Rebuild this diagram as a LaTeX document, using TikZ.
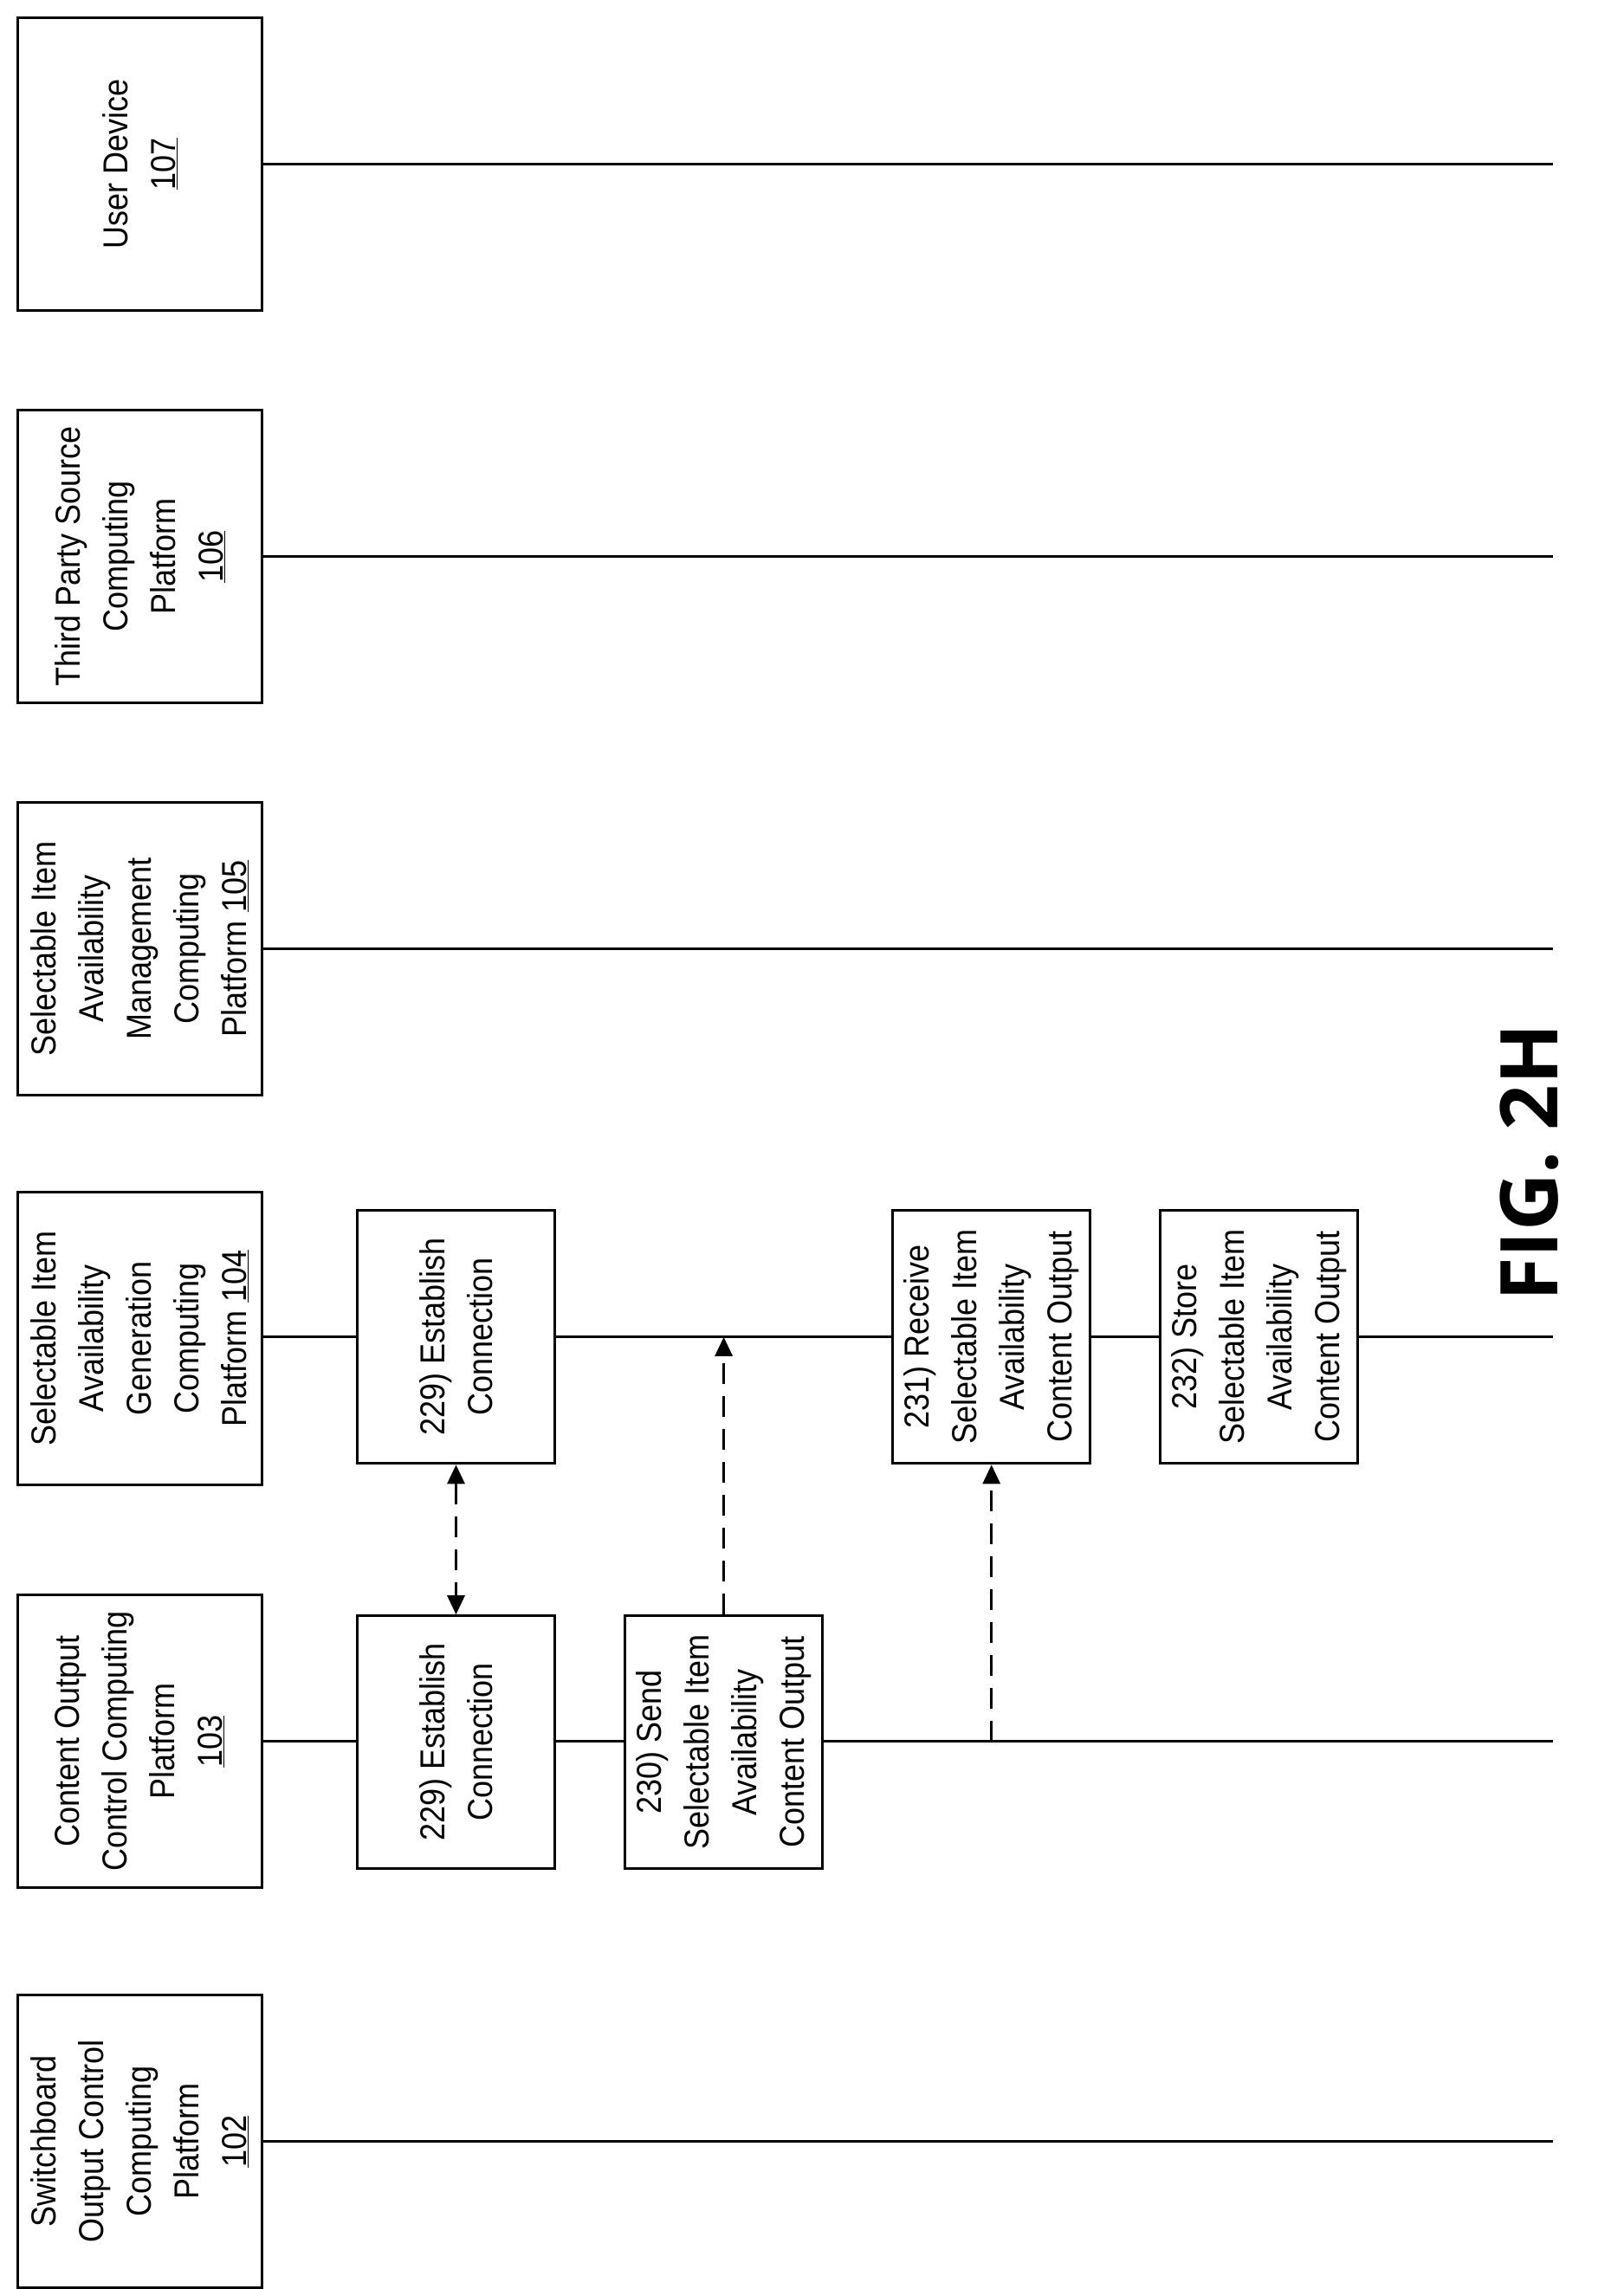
\documentclass[tikz,border=0pt]{standalone}
\usepackage{fontspec}
\setmainfont[FakeStretch=0.9]{Liberation Sans}
\newfontfamily\figfont{Open Sans}
\usetikzlibrary{arrows.meta}
\begin{document}
\begin{tikzpicture}[x=1.6984pt,y=-1.6984pt,
  every node/.style={font=\fontsize{40}{55}\selectfont},
  hdr/.style={draw,line width=3pt,rotate=90,minimum width=338pt,minimum height=282pt,align=center,inner sep=0pt,fill=white},
  stp/.style={draw,line width=3pt,rotate=90,minimum width=292pt,minimum height=228pt,align=center,inner sep=0pt,fill=white},
  life/.style={line width=3pt},
  msg/.style={line width=3pt,dash pattern=on 24pt off 14pt,-{Triangle[length=22pt,width=20pt]}},
  msgb/.style={line width=3pt,dash pattern=on 24pt off 14pt,{Triangle[length=22pt,width=20pt]}-{Triangle[length=22pt,width=20pt]}}]
\useasboundingbox (0,0) rectangle (1104,1556.2);
\node[hdr] (h107) at (95,111.5) {User Device\\\underline{107}};
\node[hdr] (h106) at (95,378.5) {Third Party Source\\Computing\\Platform\\\underline{106}};
\node[hdr] (h105) at (95,645) {Selectable Item\\Availability\\Management\\Computing\\Platform \underline{105}};
\node[hdr] (h104) at (95,910) {Selectable Item\\Availability\\Generation\\Computing\\Platform \underline{104}};
\node[hdr] (h103) at (95,1184) {Content Output\\Control Computing\\Platform\\\underline{103}};
\node[hdr] (h102) at (95,1456) {Switchboard\\Output Control\\Computing\\Platform\\\underline{102}};
\coordinate (e107) at (1056,111.5);
\coordinate (e106) at (1056,378.5);
\coordinate (e105) at (1056,645);
\coordinate (e104) at (1056,909);
\coordinate (e103) at (1056,1184);
\coordinate (e102) at (1056,1456);
\foreach \n in {107,106,105,102} \draw[life] (h\n.south) -- (e\n);
\draw[life] (h104.south |- e104) -- (e104);
\draw[life] (h103.south |- e103) -- (e103);
\node[stp] (s229a) at (310,909) {229) Establish\\Connection};
\node[stp] (s229b) at (310,1184.5) {229) Establish\\Connection};
\node[stp] (s230) at (492,1184.5) {230) Send\\Selectable Item\\Availability\\Content Output};
\node[stp] (s231) at (674,909) {231) Receive\\Selectable Item\\Availability\\Content Output};
\node[stp] (s232) at (856,909) {232) Store\\Selectable Item\\Availability\\Content Output};
\draw[msgb] (s229a.west) -- (s229b.east);
\coordinate (t230) at (492,909);
\draw[msg] (s230.east) -- (t230);
\coordinate (f231) at (674,1184);
\draw[msg] (f231) -- (s231.west);
\node[rotate=90,anchor=south east,inner sep=0pt,font=\figfont\bfseries\fontsize{92}{100}\selectfont] (fig) at (1060,696) {FIG. 2H};
\end{tikzpicture}
\end{document}
